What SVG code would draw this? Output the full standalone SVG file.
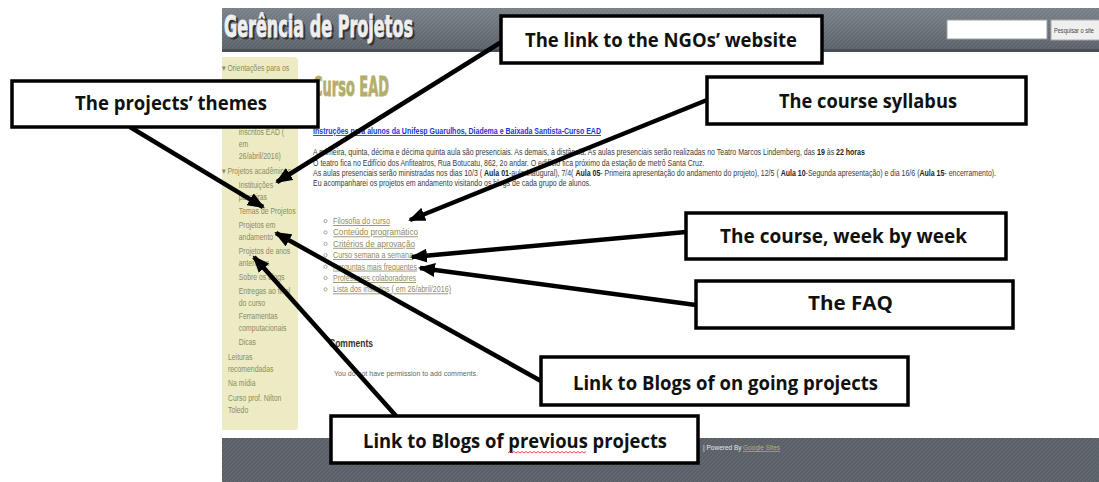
<svg xmlns="http://www.w3.org/2000/svg" width="1099" height="482" viewBox="0 0 1099 482">
<defs>
  <linearGradient id="hdr" x1="0" y1="0" x2="0" y2="1">
    <stop offset="0" stop-color="#7b8189"/>
    <stop offset="1" stop-color="#5b6169"/>
  </linearGradient>
  <pattern id="hatch" width="4" height="4" patternUnits="userSpaceOnUse">
    <path d="M0,4 L4,0" stroke="#ffffff" stroke-opacity="0.07" stroke-width="1"/>
  </pattern>
  <marker id="ah" markerUnits="userSpaceOnUse" markerWidth="18" markerHeight="14" refX="15" refY="7" orient="auto">
    <path d="M0,0 L17,7 L0,14 z" fill="#000"/>
  </marker>
  <style>
    .side{font-family:"Liberation Sans",Arial,sans-serif;font-size:8.6px;fill:#8e8b5c}
    .body{font-family:"Liberation Sans",Arial,sans-serif;font-size:8.2px;fill:#3a3a3a}
    .bb{font-weight:bold;fill:#222}
    .lnk{font-family:"Liberation Sans",Arial,sans-serif;font-size:8.6px;fill:#8e8b5c;text-decoration:underline}
    .box{fill:#fff;stroke:#000;stroke-width:3.5}
    .lbl{font-family:"Open Sans","Noto Sans",sans-serif;font-weight:bold;font-size:20px;fill:#111}
    .arr{stroke:#000;stroke-width:4.5;fill:none;marker-end:url(#ah)}
  </style>
</defs>
<rect width="1099" height="482" fill="#fff"/>

<g id="page">
  <!-- header -->
  <rect x="222" y="8" width="877" height="43" fill="url(#hdr)"/>
  <rect x="222" y="8" width="877" height="43" fill="url(#hatch)"/>
  <rect x="222" y="49" width="877" height="3" fill="#4a4f56"/>
  <text x="226" y="39" font-family="DejaVu Sans Condensed,DejaVu Sans,sans-serif" font-weight="bold" font-size="30" fill="#333" stroke="#333" stroke-width="0.9" textLength="189" lengthAdjust="spacingAndGlyphs">Gerência de Projetos</text>
  <text x="224" y="37" font-family="DejaVu Sans Condensed,DejaVu Sans,sans-serif" font-weight="bold" font-size="30" fill="#eeeeee" stroke="#eeeeee" stroke-width="0.9" textLength="189" lengthAdjust="spacingAndGlyphs">Gerência de Projetos</text>
  <rect x="947" y="20" width="100" height="19" fill="#fff" stroke="#9aa0a6" stroke-width="1"/>
  <rect x="1051" y="20" width="52" height="20" fill="#efefef" stroke="#aaa" stroke-width="1"/>
  <g transform="translate(1054,33) scale(0.75,1)">
    <text x="0" y="0" font-family="Liberation Sans,Arial,sans-serif" font-size="7.5" fill="#444">Pesquisar o site</text>
  </g>

  <!-- sidebar -->
  <path d="M222,57 H294 Q298,57 298,61 V426 Q298,430 294,430 H222 Z" fill="#ecebc3"/>
  <g transform="translate(222,0) scale(0.8,1) translate(-222,0)">
    <text class="side" x="222" y="71">▾ Orientações para os</text>
    <text class="side" x="243" y="135">inscritos EAD (</text>
    <text class="side" x="243" y="147">em</text>
    <text class="side" x="243" y="159">26/abril/2016)</text>
    <text class="side" x="222" y="174">▾ Projetos acadêmicos</text>
    <text class="side" x="243" y="188">Instituições</text>
    <text class="side" x="243" y="200">parceiras</text>
    <text class="side" x="243" y="214">Temas de Projetos</text>
    <text class="side" x="243" y="228">Projetos em</text>
    <text class="side" x="243" y="240">andamento</text>
    <text class="side" x="243" y="254">Projetos de anos</text>
    <text class="side" x="243" y="266">anteriores</text>
    <text class="side" x="243" y="280">Sobre os blogs</text>
    <text class="side" x="243" y="294">Entregas ao final</text>
    <text class="side" x="243" y="306">do curso</text>
    <text class="side" x="243" y="319">Ferramentas</text>
    <text class="side" x="243" y="331">computacionais</text>
    <text class="side" x="243" y="345">Dicas</text>
    <text class="side" x="229.5" y="360">Leituras</text>
    <text class="side" x="229.5" y="372">recomendadas</text>
    <text class="side" x="229.5" y="386">Na mídia</text>
    <text class="side" x="229.5" y="401">Curso prof. Nilton</text>
    <text class="side" x="229.5" y="413">Toledo</text>
  </g>

  <!-- main content -->
  <text x="313" y="96" font-family="DejaVu Sans Condensed,DejaVu Sans,sans-serif" font-weight="bold" font-size="26" fill="#b4ae6c" stroke="#b4ae6c" stroke-width="0.8" textLength="76" lengthAdjust="spacingAndGlyphs">Curso EAD</text>
  <text x="313" y="134" font-family="Liberation Sans,Arial,sans-serif" font-size="8.8" font-weight="bold" fill="#2233dd" text-decoration="underline" textLength="288" lengthAdjust="spacingAndGlyphs">Instruções para alunos da Unifesp Guarulhos, Diadema e Baixada Santista-Curso EAD</text>

  <g transform="translate(313,0) scale(0.855,1) translate(-313,0)">
    <text class="body" x="313" y="155">A primeira, quinta, décima e décima quinta aula são presenciais. As demais, à distância. As aulas presenciais serão realizadas no Teatro Marcos Lindemberg, das <tspan class="bb">19</tspan> às <tspan class="bb">22 horas</tspan></text>
    <text class="body" x="313" y="166">O teatro fica no Edifício dos Anfiteatros, Rua Botucatu, 862, 2o andar. O edifício fica próximo da estação de metrô Santa Cruz.</text>
    <text class="body" x="313" y="176">As aulas presenciais serão ministradas nos dias 10/3 ( <tspan class="bb">Aula 01</tspan>-aula inaugural), 7/4( <tspan class="bb">Aula 05</tspan>- Primeira apresentação do andamento do projeto), 12/5 ( <tspan class="bb">Aula 10</tspan>-Segunda apresentação) e dia 16/6 (<tspan class="bb">Aula 15</tspan>- encerramento).</text>
    <text class="body" x="313" y="186">Eu acompanharei os projetos em andamento visitando os blogs de cada grupo de alunos.</text>
  </g>

  <g fill="none" stroke="#999" stroke-width="0.9">
    <circle cx="325.5" cy="221" r="1.6"/>
    <circle cx="325.5" cy="232.4" r="1.6"/>
    <circle cx="325.5" cy="243.8" r="1.6"/>
    <circle cx="325.5" cy="255.2" r="1.6"/>
    <circle cx="325.5" cy="266.6" r="1.6"/>
    <circle cx="325.5" cy="278" r="1.6"/>
    <circle cx="325.5" cy="289.4" r="1.6"/>
  </g>
  <text class="lnk" x="333" y="224" textLength="57" lengthAdjust="spacingAndGlyphs">Filosofia do curso</text>
  <text class="lnk" x="333" y="235.4" textLength="85" lengthAdjust="spacingAndGlyphs">Conteúdo programático</text>
  <text class="lnk" x="333" y="246.8" textLength="82" lengthAdjust="spacingAndGlyphs">Critérios de aprovação</text>
  <text class="lnk" x="333" y="258.2" textLength="80" lengthAdjust="spacingAndGlyphs">Curso semana a semana</text>
  <text class="lnk" x="333" y="269.6" textLength="84" lengthAdjust="spacingAndGlyphs">Perguntas mais frequentes</text>
  <text class="lnk" x="333" y="281" textLength="83" lengthAdjust="spacingAndGlyphs">Professores colaboradores</text>
  <text class="lnk" x="333" y="292.4" textLength="118" lengthAdjust="spacingAndGlyphs">Lista dos inscritos ( em 26/abril/2016)</text>

  <text x="329" y="347" font-family="Liberation Sans,Arial,sans-serif" font-size="10" font-weight="bold" fill="#333" textLength="44" lengthAdjust="spacingAndGlyphs">Comments</text>
  <text x="334" y="376" font-family="Liberation Sans,Arial,sans-serif" font-size="8" fill="#666" textLength="144" lengthAdjust="spacingAndGlyphs">You do not have permission to add comments.</text>

  <!-- footer -->
  <rect x="222" y="438" width="877" height="44" fill="#5b6169"/>
  <rect x="222" y="438" width="877" height="44" fill="url(#hatch)"/>
  <text x="703" y="450" font-family="Liberation Sans,Arial,sans-serif" font-size="6.5" fill="#e6e6e6">| Powered By</text>
  <text x="743" y="450" font-family="Liberation Sans,Arial,sans-serif" font-size="7" fill="#b6b26a" text-decoration="underline" textLength="37" lengthAdjust="spacingAndGlyphs">Google Sites</text>
</g>

<g id="connectors">
  <line class="arr" x1="503" y1="41" x2="277" y2="182"/>
  <line class="arr" x1="130" y1="127" x2="263" y2="207"/>
  <line class="arr" x1="707" y1="100" x2="410" y2="220"/>
  <line class="arr" x1="686" y1="232" x2="412" y2="257"/>
  <line class="arr" x1="696" y1="305" x2="420" y2="268"/>
  <line class="arr" x1="541" y1="381" x2="276" y2="233"/>
  <line class="arr" x1="397" y1="417" x2="254" y2="257"/>
</g>

<g id="n-ngo">
  <rect class="box" x="501" y="16" width="321" height="47"/>
  <text class="lbl" x="525" y="47" textLength="272" lengthAdjust="spacingAndGlyphs">The link to the NGOs’ website</text>
</g>
<g id="n-themes">
  <rect class="box" x="12" y="81" width="306" height="46"/>
  <text class="lbl" x="75" y="110" textLength="192" lengthAdjust="spacingAndGlyphs">The projects’ themes</text>
</g>
<g id="n-syllabus">
  <rect class="box" x="707" y="77" width="319" height="47"/>
  <text class="lbl" x="779" y="108" textLength="178" lengthAdjust="spacingAndGlyphs">The course syllabus</text>
</g>
<g id="n-week">
  <rect class="box" x="686" y="213" width="320" height="46"/>
  <text class="lbl" x="720" y="243" textLength="247" lengthAdjust="spacingAndGlyphs">The course, week by week</text>
</g>
<g id="n-faq">
  <rect class="box" x="696" y="281" width="317" height="47"/>
  <text class="lbl" x="808" y="310" textLength="85" lengthAdjust="spacingAndGlyphs">The FAQ</text>
</g>
<g id="n-ongoing">
  <rect class="box" x="541" y="357" width="367" height="48"/>
  <text class="lbl" x="573" y="390" textLength="305" lengthAdjust="spacingAndGlyphs">Link to Blogs of on going projects</text>
</g>
<g id="n-previous">
  <rect class="box" x="331" y="416" width="367" height="47"/>
  <text class="lbl" x="363" y="448" textLength="304" lengthAdjust="spacingAndGlyphs">Link to Blogs of previous projects</text>
  <path d="M508,453 l2,-1.5 l2,1.5 l2,-1.5 l2,1.5 l2,-1.5 l2,1.5 l2,-1.5 l2,1.5 l2,-1.5 l2,1.5 l2,-1.5 l2,1.5 l2,-1.5 l2,1.5 l2,-1.5 l2,1.5 l2,-1.5 l2,1.5 l2,-1.5 l2,1.5 l2,-1.5 l2,1.5 l2,-1.5 l2,1.5 l2,-1.5 l2,1.5 l2,-1.5 l2,1.5 l2,-1.5 l2,1.5 l2,-1.5 l2,1.5 l2,-1.5 l2,1.5 l2,-1.5 l2,1.5 l2,-1.5 l2,1.5 l2,-1.5" fill="none" stroke="#e02020" stroke-width="0.8"/>
</g>
</svg>
